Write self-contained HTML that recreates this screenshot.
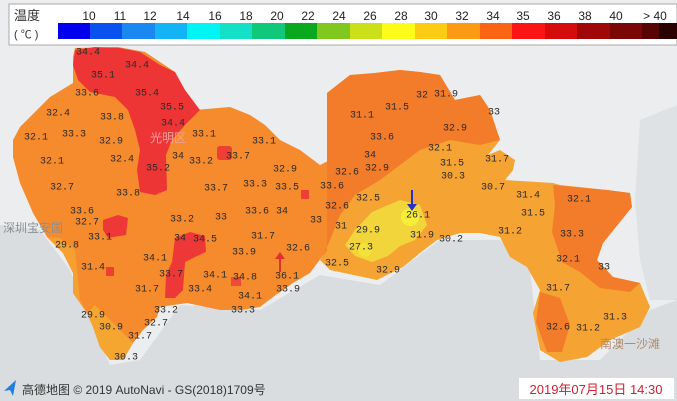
<!DOCTYPE html>
<html><head><meta charset="utf-8"><style>
html,body{margin:0;padding:0;width:677px;height:401px;overflow:hidden;background:#e8eaeb}
svg{position:absolute;left:0;top:0}
.t{font-family:"Liberation Mono",monospace;font-size:10px;fill:#2a2a2a;text-anchor:middle;dominant-baseline:middle}
.lg{font-family:"Liberation Sans",sans-serif;font-size:12px;fill:#222;text-anchor:middle}
</style></head><body>
<svg width="677" height="401" viewBox="0 0 677 401">
<rect width="677" height="401" fill="#ebedee"/>
<!-- water -->
<polygon points="0,225 40,230 70,270 90,320 110,365 140,360 180,305 260,310 320,275 380,285 440,240 500,240 530,270 540,360 600,360 650,310 677,300 677,401 0,401" fill="#d9dddf"/>
<polygon points="640,120 677,105 677,300 650,300 640,260 635,200" fill="#dfe2e4"/>
<!-- west main -->
<polygon points="73,57 75,48 118,47 145,52 175,72 195,110 230,107 250,115 265,125 280,140 300,150 320,165 330,160 327,150 330,120 327,93 327,250 310,273 293,283 273,297 260,307 240,310 220,310 187,303 160,307 157,317 143,330 133,343 123,360 110,360 100,347 93,327 87,313 73,293 73,273 63,253 47,237 33,213 20,183 13,157 13,140 20,127 40,107 50,97 73,83" fill="#f58b2c"/>
<polygon points="47,237 63,253 73,273 73,293 87,313 80,300 75,250 60,238" fill="#f5a030"/>
<polygon points="87,313 93,327 100,347 110,360 123,360 133,343 120,330 105,315 95,305" fill="#f5a630"/>
<!-- east -->
<polygon points="327,93 350,75 375,73 400,70 420,72 440,75 455,100 480,95 490,110 500,140 488,155 500,150 515,160 513,170 505,180 553,183 560,185 607,190 630,193 632,207 603,243 597,260 613,277 640,283 650,307 640,327 610,340 587,357 560,362 540,350 533,313 540,290 527,267 510,257 500,237 480,233 460,233 437,240 420,253 403,267 377,280 330,270 320,260 327,250" fill="#f5a333"/>
<polygon points="327,93 350,75 375,73 400,70 420,72 440,75 455,100 480,95 490,110 500,140 480,145 450,140 420,150 400,165 380,180 355,195 340,215 330,240 322,258 327,250" fill="#f27c2a"/>
<polygon points="553,185 607,190 630,193 632,207 603,243 597,260 613,277 640,283 630,292 600,288 580,272 562,262 552,232 555,205" fill="#f27c2a"/>
<polygon points="540,292 560,298 570,325 562,352 547,352 536,322" fill="#f27c2a"/>
<polygon points="372,212 400,200 420,205 427,225 415,240 400,246 388,256 372,262 355,256 345,245 355,230" fill="#f2d53a"/>
<circle cx="410" cy="217" r="9" fill="#f7ee3a"/>
<circle cx="365" cy="250" r="7" fill="#f2e23a"/>
<!-- red -->
<polygon points="75,50 95,47 120,48 140,52 160,65 175,72 185,90 200,110 185,125 172,140 166,155 167,190 155,195 140,192 137,170 140,150 135,130 128,110 115,97 90,92 78,80 73,65" fill="#ee3535"/>
<polygon points="103,220 118,215 128,218 126,235 108,238 103,230" fill="#ee3838"/>
<polygon points="175,238 190,232 205,236 206,252 195,257 185,262 183,290 175,298 165,298 166,275 172,262" fill="#ee3838"/>
<rect x="217" y="146" width="15" height="14" rx="3" fill="#ee3f35"/>
<rect x="301" y="190" width="8" height="9" fill="#ee3f35"/>
<rect x="106" y="267" width="8" height="9" fill="#ee3f35"/>
<rect x="231" y="277" width="10" height="9" fill="#ee4a35"/>
<!-- labels -->
<g class="t">
<text x="88" y="52">34.4</text><text x="137" y="65">34.4</text><text x="103" y="75">35.1</text><text x="87" y="93">33.6</text><text x="147" y="93">35.4</text><text x="58" y="113">32.4</text><text x="112" y="117">33.8</text><text x="172" y="107">35.5</text><text x="173" y="123">34.4</text><text x="74" y="134">33.3</text><text x="36" y="137">32.1</text><text x="111" y="141">32.9</text><text x="204" y="134">33.1</text><text x="264" y="141">33.1</text><text x="178" y="156">34</text><text x="201" y="161">33.2</text><text x="238" y="156">33.7</text><text x="52" y="161">32.1</text><text x="122" y="159">32.4</text><text x="158" y="168">35.2</text><text x="285" y="169">32.9</text><text x="62" y="187">32.7</text><text x="128" y="193">33.8</text><text x="216" y="188">33.7</text><text x="255" y="184">33.3</text><text x="287" y="187">33.5</text><text x="82" y="211">33.6</text><text x="182" y="219">33.2</text><text x="221" y="217">33</text><text x="257" y="211">33.6</text><text x="282" y="211">34</text><text x="316" y="220">33</text><text x="87" y="222">32.7</text><text x="100" y="237">33.1</text><text x="67" y="245">29.8</text><text x="180" y="238">34</text><text x="205" y="239">34.5</text><text x="263" y="236">31.7</text><text x="298" y="248">32.6</text><text x="244" y="252">33.9</text><text x="155" y="258">34.1</text><text x="93" y="267">31.4</text><text x="171" y="274">33.7</text><text x="215" y="275">34.1</text><text x="245" y="277">34.8</text><text x="287" y="276">36.1</text><text x="147" y="289">31.7</text><text x="200" y="289">33.4</text><text x="288" y="289">33.9</text><text x="250" y="296">34.1</text><text x="166" y="310">33.2</text><text x="243" y="310">33.3</text><text x="93" y="315">29.9</text><text x="156" y="323">32.7</text><text x="111" y="327">30.9</text><text x="140" y="336">31.7</text><text x="126" y="357">30.3</text>
<text x="422" y="95">32</text><text x="446" y="94">31.9</text><text x="397" y="107">31.5</text><text x="362" y="115">31.1</text><text x="494" y="112">33</text><text x="455" y="128">32.9</text><text x="382" y="137">33.6</text><text x="440" y="148">32.1</text><text x="370" y="155">34</text><text x="452" y="163">31.5</text><text x="497" y="159">31.7</text><text x="347" y="172">32.6</text><text x="377" y="168">32.9</text><text x="453" y="176">30.3</text><text x="332" y="186">33.6</text><text x="493" y="187">30.7</text><text x="528" y="195">31.4</text><text x="579" y="199">32.1</text><text x="368" y="198">32.5</text><text x="337" y="206">32.6</text><text x="418" y="215">26.1</text><text x="533" y="213">31.5</text><text x="341" y="226">31</text><text x="368" y="230">29.9</text><text x="510" y="231">31.2</text><text x="572" y="234">33.3</text><text x="422" y="235">31.9</text><text x="451" y="239">30.2</text><text x="361" y="247">27.3</text><text x="568" y="259">32.1</text><text x="604" y="267">33</text><text x="337" y="263">32.5</text><text x="388" y="270">32.9</text><text x="558" y="288">31.7</text><text x="615" y="317">31.3</text><text x="558" y="327">32.6</text><text x="588" y="328">31.2</text>
</g>
<!-- arrows -->
<line x1="412" y1="190" x2="412" y2="206" stroke="#2233cc" stroke-width="2"/><polygon points="407,204 417,204 412,211" fill="#2233cc"/>
<line x1="280" y1="258" x2="280" y2="272" stroke="#e03030" stroke-width="2"/><polygon points="275,259 285,259 280,252" fill="#e03030"/>
<!-- place names -->
<g font-family="'Liberation Sans','Noto Sans CJK SC',sans-serif" font-size="12" fill="#9a9a9a">
<text x="3" y="232" fill="#8a8f93">深圳宝安国</text>
<text x="150" y="142" fill="#f0a0a0">光明区</text>
<text x="600" y="348" fill="#b08a70">南澳一沙滩</text>
</g>
<!-- legend -->
<rect x="9" y="4" width="668" height="41" fill="#fff" stroke="#aaa"/>
<text x="14" y="20" font-family="'Liberation Sans','Noto Sans CJK SC',sans-serif" font-size="13" fill="#333">温度</text>
<text x="14" y="38" font-family="'Liberation Sans','Noto Sans CJK SC',sans-serif" font-size="11" fill="#333">( ℃ )</text>
<g>
<rect x="58" y="23" width="33" height="16" fill="#0000ee"/><rect x="90" y="23" width="33" height="16" fill="#0a52f0"/><rect x="122" y="23" width="33" height="16" fill="#1a88f0"/><rect x="155" y="23" width="33" height="16" fill="#12b4f5"/><rect x="187" y="23" width="33" height="16" fill="#00f4f4"/><rect x="220" y="23" width="33" height="16" fill="#14e0c8"/><rect x="252" y="23" width="33" height="16" fill="#10c87a"/><rect x="285" y="23" width="33" height="16" fill="#0aa81e"/><rect x="317" y="23" width="33" height="16" fill="#80c81e"/><rect x="350" y="23" width="33" height="16" fill="#cce01a"/><rect x="382" y="23" width="33" height="16" fill="#fcfc18"/><rect x="415" y="23" width="33" height="16" fill="#fccc14"/><rect x="447" y="23" width="33" height="16" fill="#fc9a14"/><rect x="480" y="23" width="33" height="16" fill="#fc6414"/><rect x="512" y="23" width="33" height="16" fill="#fc1414"/><rect x="545" y="23" width="33" height="16" fill="#d40c0c"/><rect x="577" y="23" width="33" height="16" fill="#a00808"/><rect x="610" y="23" width="33" height="16" fill="#7a0606"/><rect x="642" y="23" width="35" height="16" fill="#560404"/><rect x="659" y="23" width="18" height="16" fill="#2a0202"/>
</g>
<g class="lg">
<text x="89" y="20">10</text><text x="120" y="20">11</text><text x="150" y="20">12</text><text x="183" y="20">14</text><text x="215" y="20">16</text><text x="246" y="20">18</text><text x="277" y="20">20</text><text x="308" y="20">22</text><text x="339" y="20">24</text><text x="370" y="20">26</text><text x="401" y="20">28</text><text x="431" y="20">30</text><text x="462" y="20">32</text><text x="493" y="20">34</text><text x="523" y="20">35</text><text x="554" y="20">36</text><text x="585" y="20">38</text><text x="616" y="20">40</text><text x="655" y="20">&gt; 40</text>
</g>
<!-- footer -->
<polygon points="4,391 16,380 13,396 10,390" fill="#1f7fe0"/>
<text x="22" y="394" font-family="'Liberation Sans','Noto Sans CJK SC',sans-serif" font-size="12" fill="#333">高德地图 © 2019 AutoNavi - GS(2018)1709号</text>
<rect x="519" y="378" width="155" height="21" fill="#fff"/>
<text x="596" y="394" text-anchor="middle" font-family="'Liberation Sans','Noto Sans CJK SC',sans-serif" font-size="13" fill="#d02030">2019年07月15日 14:30</text>
</svg>
</body></html>
